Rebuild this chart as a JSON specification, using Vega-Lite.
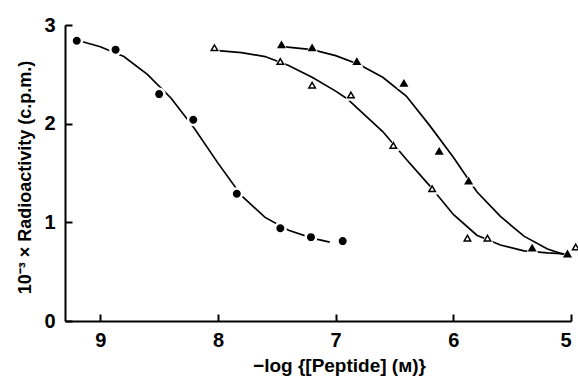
{
  "$schema": "https://vega.github.io/schema/vega-lite/v6.json",
  "autosize": "none",
  "width": 506,
  "height": 296,
  "padding": {"left": 65, "top": 25, "right": 7, "bottom": 55},
  "background": "white",
  "config": {
    "view": {"stroke": null},
    "font": "Liberation Sans",
    "axis": {
      "grid": false,
      "domainColor": "black",
      "domainWidth": 2,
      "tickColor": "black",
      "tickWidth": 2,
      "tickSize": -7,
      "labelFont": "Liberation Sans",
      "labelFontWeight": "bold",
      "labelFontSize": 20,
      "labelColor": "black",
      "titleFont": "Liberation Sans",
      "titleFontWeight": "bold",
      "titleColor": "black"
    }
  },
  "datasets": {
    "points": [
      {"series": "circles", "x": 9.2, "y": 2.84},
      {"series": "circles", "x": 8.87, "y": 2.75},
      {"series": "circles", "x": 8.5, "y": 2.3},
      {"series": "circles", "x": 8.21, "y": 2.04},
      {"series": "circles", "x": 7.84, "y": 1.29},
      {"series": "circles", "x": 7.47, "y": 0.94},
      {"series": "circles", "x": 7.21, "y": 0.85},
      {"series": "circles", "x": 6.94, "y": 0.81},
      {"series": "open", "x": 8.03, "y": 2.77},
      {"series": "open", "x": 7.47, "y": 2.63},
      {"series": "open", "x": 7.2, "y": 2.39},
      {"series": "open", "x": 6.87, "y": 2.29},
      {"series": "open", "x": 6.51, "y": 1.78},
      {"series": "open", "x": 6.18, "y": 1.34},
      {"series": "open", "x": 5.88, "y": 0.84},
      {"series": "open", "x": 5.71, "y": 0.84},
      {"series": "open", "x": 4.96, "y": 0.75},
      {"series": "filled", "x": 7.46, "y": 2.8},
      {"series": "filled", "x": 7.2, "y": 2.77},
      {"series": "filled", "x": 6.82, "y": 2.63},
      {"series": "filled", "x": 6.42, "y": 2.41},
      {"series": "filled", "x": 6.12, "y": 1.72},
      {"series": "filled", "x": 5.87, "y": 1.42},
      {"series": "filled", "x": 5.33, "y": 0.74},
      {"series": "filled", "x": 5.03, "y": 0.68}
    ],
    "curves": [
      {"series": "circles", "x": 9.15, "y": 2.83},
      {"series": "circles", "x": 9.0, "y": 2.78},
      {"series": "circles", "x": 8.8, "y": 2.68},
      {"series": "circles", "x": 8.6, "y": 2.5},
      {"series": "circles", "x": 8.4, "y": 2.26},
      {"series": "circles", "x": 8.2, "y": 1.95},
      {"series": "circles", "x": 8.0, "y": 1.6},
      {"series": "circles", "x": 7.8, "y": 1.27},
      {"series": "circles", "x": 7.6, "y": 1.05},
      {"series": "circles", "x": 7.4, "y": 0.92},
      {"series": "circles", "x": 7.2, "y": 0.84},
      {"series": "circles", "x": 7.05, "y": 0.8},
      {"series": "open", "x": 8.0, "y": 2.74},
      {"series": "open", "x": 7.8, "y": 2.72},
      {"series": "open", "x": 7.6, "y": 2.68},
      {"series": "open", "x": 7.4, "y": 2.59},
      {"series": "open", "x": 7.2, "y": 2.47},
      {"series": "open", "x": 7.0, "y": 2.33},
      {"series": "open", "x": 6.9, "y": 2.25},
      {"series": "open", "x": 6.8, "y": 2.14},
      {"series": "open", "x": 6.6, "y": 1.92},
      {"series": "open", "x": 6.4, "y": 1.64},
      {"series": "open", "x": 6.2, "y": 1.37},
      {"series": "open", "x": 6.0, "y": 1.08},
      {"series": "open", "x": 5.8, "y": 0.87},
      {"series": "open", "x": 5.6, "y": 0.77},
      {"series": "open", "x": 5.4, "y": 0.71},
      {"series": "open", "x": 5.2, "y": 0.69},
      {"series": "open", "x": 5.05, "y": 0.68},
      {"series": "filled", "x": 7.45, "y": 2.78},
      {"series": "filled", "x": 7.2, "y": 2.75},
      {"series": "filled", "x": 7.0, "y": 2.69},
      {"series": "filled", "x": 6.8, "y": 2.6},
      {"series": "filled", "x": 6.6, "y": 2.47},
      {"series": "filled", "x": 6.4, "y": 2.28},
      {"series": "filled", "x": 6.2, "y": 1.98},
      {"series": "filled", "x": 6.0, "y": 1.66},
      {"series": "filled", "x": 5.8, "y": 1.31},
      {"series": "filled", "x": 5.6, "y": 1.06},
      {"series": "filled", "x": 5.4, "y": 0.86},
      {"series": "filled", "x": 5.2, "y": 0.73},
      {"series": "filled", "x": 5.05, "y": 0.67}
    ]
  },
  "encoding": {
    "x": {
      "field": "x",
      "type": "quantitative",
      "scale": {"domain": [5, 9.3], "reverse": true, "nice": false, "zero": false},
      "axis": {
        "values": [9, 8, 7, 6, 5],
        "labelPadding": 16,
        "title": "−log {[Peptide] (ᴍ)}",
        "titleFontSize": 19,
        "titleX": 274,
        "titleY": 50,
        "titleBaseline": "alphabetic"
      }
    },
    "y": {
      "field": "y",
      "type": "quantitative",
      "scale": {"domain": [0, 3], "nice": false},
      "axis": {
        "values": [0, 1, 2, 3],
        "labelPadding": 17,
        "title": "10⁻³ × Radioactivity (c.p.m.)",
        "titleFontSize": 18,
        "titleAngle": -90,
        "titleX": -40,
        "titleY": 152,
        "titleBaseline": "middle",
        "titleAlign": "center"
      }
    }
  },
  "layer": [
    {
      "data": {"name": "curves"},
      "mark": {"type": "line", "color": "black", "strokeWidth": 1.7},
      "encoding": {"detail": {"field": "series"}}
    },
    {
      "data": {"name": "points"},
      "mark": {"type": "point", "filled": true, "size": 170, "color": "white", "opacity": 1},
      "encoding": {
        "shape": {
          "field": "series",
          "type": "nominal",
          "scale": {"domain": ["circles", "open", "filled"], "range": ["circle", "triangle-up", "triangle-up"]},
          "legend": null
        }
      }
    },
    {
      "data": {"name": "points"},
      "mark": {"type": "point", "filled": true, "size": 42, "stroke": "black", "strokeWidth": 1.5, "opacity": 1},
      "encoding": {
        "shape": {
          "field": "series",
          "type": "nominal",
          "scale": {"domain": ["circles", "open", "filled"], "range": ["circle", "triangle-up", "triangle-up"]},
          "legend": null
        },
        "fill": {
          "field": "series",
          "type": "nominal",
          "scale": {"domain": ["circles", "open", "filled"], "range": ["black", "white", "black"]},
          "legend": null
        }
      }
    }
  ]
}
